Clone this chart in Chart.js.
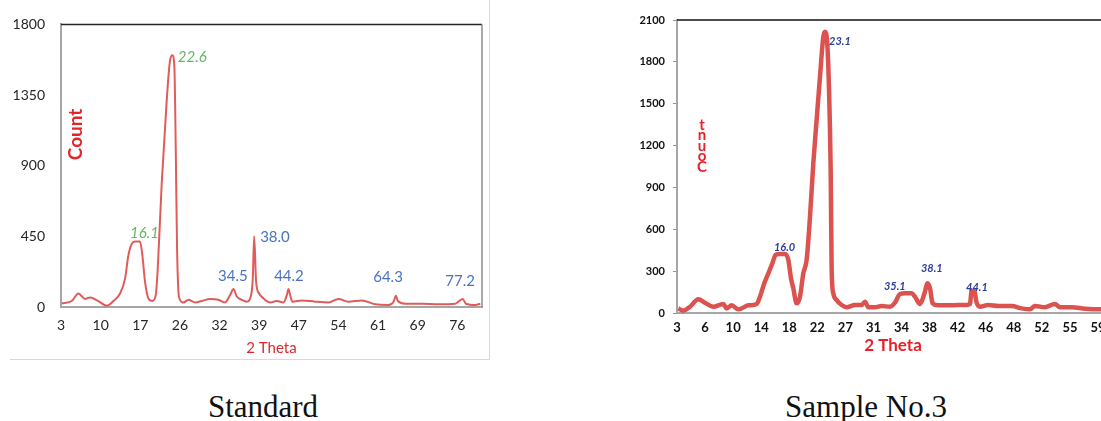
<!DOCTYPE html>
<html>
<head>
<meta charset="utf-8">
<script src="https://cdn.jsdelivr.net/npm/chart.js@4.4.0/dist/chart.umd.min.js"></script>
<style>
  html, body { margin:0; padding:0; background:#fff; overflow:hidden; width:1101px; height:421px; position:relative; }
  #leftFrame { position:absolute; left:10px; top:-2px; width:479px; height:361px; border-right:1px solid #d9d9d9; border-bottom:1px solid #d9d9d9; }
  #leftChart { position:absolute; left:0; top:0; }
  #rightChart { position:absolute; left:610px; top:0; }
  .caption { position:absolute; top:391px; font-family:"Liberation Serif", serif; font-size:31px; line-height:31px; color:#111; transform:translateX(-50%); white-space:nowrap; }
</style>
</head>
<body>
<div id="leftFrame"></div>
<canvas id="leftChart" width="490" height="360"></canvas>
<canvas id="rightChart" width="520" height="365"></canvas>
<div class="caption" style="left:263px">Standard</div>
<div class="caption" style="left:866px">Sample No.3</div>
<script>
// Standard
const leftTheta = [3.12, 4.97, 6.20, 7.42, 8.35, 9.88, 11.42, 12.65, 13.88, 14.80, 15.41, 16.03, 16.64, 17.56, 17.99,
  18.48, 19.10, 19.84, 20.45, 20.82, 21.56, 22.48, 23.09, 23.52, 23.89, 24.14, 24.38, 24.75, 25.55, 26.47,
  27.70, 28.93, 30.47, 32.00, 33.23, 34.15, 34.77, 35.38, 36.30, 37.22, 38.02, 38.33, 38.58, 38.94, 39.50,
  40.30, 41.53, 42.75, 43.98, 44.60, 44.91, 45.21, 45.64, 47.36, 49.82, 52.28, 54.12, 55.96, 58.42, 60.88,
  63.34, 64.26, 64.69, 65.06, 66.41, 69.48, 72.56, 75.63, 76.98, 77.59, 79.31, 80.24];
const leftCount = [23, 38, 86, 51, 61, 38, 8, 38, 86, 181, 329, 402, 417, 417, 329,
  160, 55, 38, 76, 244, 792, 1319, 1572, 1603, 1524, 1003, 371, 61, 29, 46,
  29, 38, 51, 46, 29, 76, 114, 67, 46, 34, 76, 181, 451, 160, 86,
  55, 29, 38, 29, 76, 114, 76, 34, 42, 34, 29, 51, 34, 42, 17,
  13, 34, 72, 38, 21, 21, 17, 21, 51, 21, 13, 21];
const leftXLabels = ['3', '10', '17', '26', '32', '39', '47', '54', '61', '69', '76'];
const leftYTicks = [0, 450, 900, 1350, 1800];
const leftPeakText = ['22.6', '16.1', '38.0', '34.5', '44.2', '64.3', '77.2'];
const leftPeakX = [24.51, 15.72, 39.68, 31.94, 42.26, 60.51, 73.78];
const leftPeakY = [1589, 468, 442, 196, 196, 190, 167];

// Sample No.3
const rightTheta = [3.18, 3.84, 4.73, 5.84, 6.72, 7.83, 9.16, 9.61, 10.27, 11.16, 12.49, 13.60, 14.04, 14.61, 15.15,
  15.68, 16.12, 16.70, 17.36, 17.81, 18.16, 18.47, 18.91, 19.36, 19.80, 20.24, 20.69, 21.13, 21.57, 22.02,
  22.46, 22.68, 22.95, 23.21, 23.44, 23.57, 23.79, 24.23, 24.90, 25.56, 26.67, 27.56, 28.00, 28.45, 29.33,
  30.22, 31.33, 31.99, 32.66, 33.32, 34.21, 34.65, 35.32, 35.89, 36.34, 36.65, 37.00, 37.75, 39.08, 40.41,
  41.52, 41.97, 42.19, 42.54, 42.85, 43.30, 44.40, 45.73, 47.51, 48.84, 49.95, 50.61, 51.94, 53.27, 53.94,
  55.49, 57.26, 59.26, 60.40];
const rightCount = [33, 17, 45, 98, 74, 45, 65, 33, 55, 26, 55, 65, 117, 213, 284,
  356, 416, 423, 423, 380, 249, 177, 69, 117, 284, 380, 690, 1073, 1383, 1694,
  1980, 2016, 1957, 1622, 1025, 308, 141, 93, 57, 41, 57, 57, 81, 41, 41,
  50, 45, 74, 136, 141, 141, 117, 65, 136, 213, 177, 69, 55, 55, 57,
  57, 65, 158, 158, 74, 45, 57, 50, 50, 33, 26, 50, 41, 65, 41,
  41, 31, 26, 26];
const rightXLabels = ['3', '6', '10', '14', '18', '22', '27', '31', '34', '38', '42', '46', '48', '52', '55', '59'];
const rightYTicks = [0, 300, 600, 900, 1200, 1500, 1800, 2100];
const rightPeakText = ['23.1', '16.0', '35.1', '38.1', '44.1'];
const rightPeakX = [23.22, 15.90, 30.53, 35.45, 41.44];
const rightPeakY = [1949, 469, 193, 319, 183];

function makeDecor(opt) {
  return {
    id: 'decor',
    afterDraw(chart) {
      const ctx = chart.ctx, a = chart.chartArea, x = chart.scales.x, y = chart.scales.y;
      ctx.save();
      // top + right frame of plot
      ctx.lineWidth = opt.frameWidth;
      ctx.strokeStyle = opt.topColor;
      ctx.beginPath(); ctx.moveTo(a.left, a.top); ctx.lineTo(a.right, a.top); ctx.stroke();
      ctx.strokeStyle = opt.rightColor;
      ctx.beginPath(); ctx.moveTo(a.right, a.top); ctx.lineTo(a.right, a.bottom); ctx.stroke();

      // peak labels
      ctx.textAlign = 'left';
      ctx.textBaseline = 'middle';
      opt.text.forEach((t, i) => {
        ctx.font = opt.fonts[i];
        ctx.fillStyle = opt.colors[i];
        ctx.fillText(t, x.getPixelForValue(opt.px[i]), y.getPixelForValue(opt.py[i]));
      });

      // y title inside the plot
      ctx.fillStyle = opt.titleColor;
      ctx.font = opt.titleFont;
      ctx.textAlign = 'center';
      if (opt.stacked) {
        opt.title.split('').forEach((c, i) => {
          ctx.fillText(c, a.left + opt.titleDx, a.top + opt.titleDy - i * opt.step);
        });
      } else {
        ctx.translate(a.left + opt.titleDx, a.top + opt.titleDy);
        ctx.rotate(-Math.PI / 2);
        ctx.fillText(opt.title, 0, 0);
      }
      ctx.restore();
    }
  };
}

const green = '#62b862', blue = '#4a72c2', navy = '#2e3c9c';

new Chart(document.getElementById('leftChart'), {
  type: 'line',
  data: {
    datasets: [{
      data: leftTheta.map((t, i) => ({x: t, y: leftCount[i]})),
      borderColor: '#e05c5a',
      borderWidth: 2,
      pointRadius: 0,
      tension: 0.3,
      cubicInterpolationMode: 'monotone',
      fill: false
    }]
  },
  options: {
    responsive: false,
    animation: false,
    devicePixelRatio: 1,
    layout: {padding: {left: 10, top: 22, right: 8, bottom: 0}},
    plugins: {legend: {display: false}, tooltip: {enabled: false}},
    scales: {
      x: {
        type: 'linear', min: 3, max: 80.55,
        afterBuildTicks: s => { s.ticks = leftXLabels.map((_, i) => ({value: 3 + i * 7.3})); },
        afterFit: s => { s.height = 53; },
        grid: {display: false, drawTicks: false},
        border: {color: '#a6a6a6', width: 2},
        ticks: {autoSkip: false, maxRotation: 0, padding: 10, color: '#262626',
          font: {family: 'Lato', size: 14}, callback: (v, i) => leftXLabels[i]},
        title: {display: true, text: '2 Theta', color: '#e2262c',
          font: {family: 'Lato', size: 15}, padding: {top: 0, bottom: 3}}
      },
      y: {
        min: 0, max: 1800,
        afterBuildTicks: s => { s.ticks = leftYTicks.map(v => ({value: v})); },
        afterFit: s => { s.width = 51; },
        grid: {display: false, drawTicks: false},
        border: {color: '#a6a6a6', width: 2},
        ticks: {padding: 16, color: '#262626', font: {family: 'Lato', size: 14}, callback: v => String(v)}
      }
    }
  },
  plugins: [makeDecor({
    frameWidth: 1.5, topColor: '#262626', rightColor: '#8c8c8c',
    text: leftPeakText, px: leftPeakX, py: leftPeakY,
    fonts: ['italic 15px Lato', 'italic 15px Lato', '15px Lato', '15px Lato', '15px Lato', '15px Lato', '15px Lato'],
    colors: [green, green, blue, blue, blue, blue, blue],
    title: 'Count', titleColor: '#e2262c', titleFont: 'bold 19px Lato',
    titleDx: 15, titleDy: 110, stacked: false
  })]
});

new Chart(document.getElementById('rightChart'), {
  type: 'line',
  data: {
    datasets: [{
      data: rightTheta.map((t, i) => ({x: t, y: rightCount[i]})),
      borderColor: '#dc524f',
      borderWidth: 4.5,
      pointRadius: 0,
      tension: 0.3,
      cubicInterpolationMode: 'monotone',
      fill: false
    }]
  },
  options: {
    responsive: false,
    animation: false,
    devicePixelRatio: 1,
    layout: {padding: {left: 0, top: 20, right: 21, bottom: 0}},
    plugins: {legend: {display: false}, tooltip: {enabled: false}},
    scales: {
      x: {
        type: 'linear', min: 3, max: 60.46,
        afterBuildTicks: s => { s.ticks = rightXLabels.map((_, i) => ({value: 3 + i * 3.733})); },
        afterFit: s => { s.height = 52; },
        grid: {display: false, drawTicks: false},
        border: {color: '#a6a6a6', width: 2},
        ticks: {autoSkip: false, maxRotation: 0, padding: 7, color: '#111',
          font: {family: 'Lato', size: 13, weight: 'bold'}, callback: (v, i) => rightXLabels[i]},
        title: {display: true, text: '2 Theta', color: '#e8202a',
          font: {family: 'Lato', size: 17, weight: 'bold'}, padding: {top: 0, bottom: 9}}
      },
      y: {
        min: 0, max: 2100,
        afterBuildTicks: s => { s.ticks = rightYTicks.map(v => ({value: v})); },
        afterFit: s => { s.width = 67; },
        grid: {display: true, drawOnChartArea: false, drawTicks: true, tickLength: 4, color: '#8c8c8c'},
        border: {color: '#a6a6a6', width: 2},
        ticks: {padding: 8, color: '#111', font: {family: 'Lato', size: 11, weight: 'bold'}, callback: v => String(v)}
      }
    }
  },
  plugins: [makeDecor({
    frameWidth: 1.5, topColor: '#111', rightColor: '#8c8c8c',
    text: rightPeakText, px: rightPeakX, py: rightPeakY,
    fonts: rightPeakText.map(() => 'italic bold 11px Lato'),
    colors: rightPeakText.map(() => navy),
    title: 'Count', titleColor: '#e8202a', titleFont: 'bold 15px Lato',
    titleDx: 25, titleDy: 147, step: 10.5, stacked: true
  })]
});
</script>
</body>
</html>
